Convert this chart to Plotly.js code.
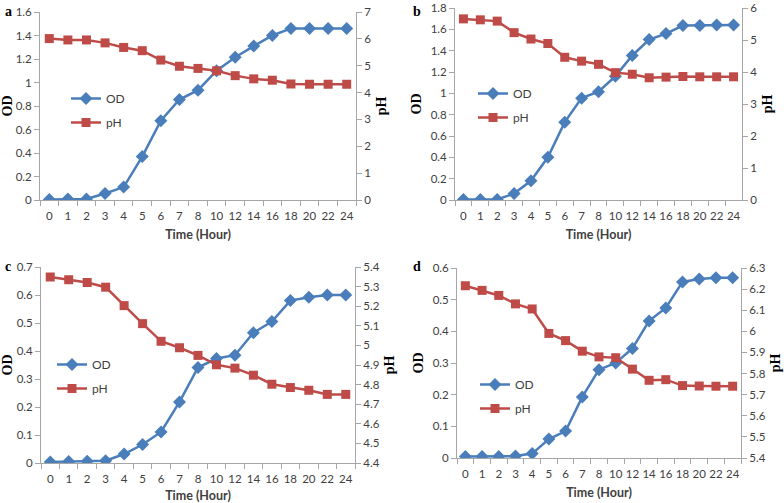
<!DOCTYPE html>
<html>
<head>
<meta charset="utf-8">
<script src="https://cdn.plot.ly/plotly-3.0.1.min.js"></script>
<style>html,body{margin:0;padding:0;background:#fff}#chart{width:784px;height:503px}</style>
</head>
<body>
<div id="chart"></div>
<script>
const hours = ["0","1","2","3","4","5","6","7","8","10","12","14","16","18","20","22","24"];

const odA = [0.005,0.008,0.008,0.055,0.11,0.37,0.675,0.855,0.935,1.10,1.215,1.31,1.40,1.46,1.46,1.46,1.46];
const phA = [6.01,5.96,5.96,5.85,5.68,5.56,5.21,4.98,4.90,4.81,4.63,4.51,4.46,4.32,4.31,4.31,4.31];

const odB = [0.005,0.005,0.005,0.06,0.18,0.40,0.73,0.955,1.015,1.16,1.355,1.505,1.56,1.635,1.635,1.64,1.64];
const phB = [5.66,5.63,5.59,5.23,5.03,4.89,4.46,4.34,4.24,3.98,3.93,3.82,3.84,3.86,3.85,3.85,3.85];

const odC = [0.004,0.005,0.006,0.008,0.032,0.066,0.111,0.218,0.341,0.373,0.385,0.465,0.505,0.58,0.592,0.60,0.60];
const phC = [5.349,5.335,5.321,5.297,5.203,5.111,5.021,4.988,4.949,4.901,4.884,4.848,4.802,4.785,4.771,4.750,4.750];

const odD = [0.005,0.005,0.005,0.006,0.014,0.06,0.085,0.193,0.279,0.30,0.346,0.433,0.474,0.556,0.565,0.569,0.569];
const phD = [6.216,6.194,6.170,6.130,6.106,5.990,5.956,5.906,5.879,5.875,5.821,5.768,5.771,5.743,5.741,5.740,5.740];

const W = 784, H = 503;
const BLUE = "#4A7EBB", RED = "#BE4B48";
const AXC = "#A6A6A6", TXC = "#404040";
const tickFont = {family: "Lato, 'Liberation Sans', sans-serif", size: 11.5, color: TXC};
const serifBold = {family: "'Liberation Serif', 'Times New Roman', serif", size: 14, color: "#000"};

// panel geometry in pixels: [left, right, top, bottom]
const panels = [
  {od: odA, ph: phA, box: [40, 356, 12, 200], yr: [0, 1.6], ydt: 0.2, y2r: [0, 7], y2dt: 1, letter: "a", leg: [66, 97]},
  {od: odB, ph: phB, box: [455, 742, 8, 200], yr: [0, 1.8], ydt: 0.2, y2r: [0, 6], y2dt: 1, letter: "b", leg: [473, 92]},
  {od: odC, ph: phC, box: [41, 355, 267, 463], yr: [0, 0.7], ydt: 0.1, y2r: [4.4, 5.4], y2dt: 0.1, letter: "c", leg: [52, 363]},
  {od: odD, ph: phD, box: [457, 741, 268, 458], yr: [0, 0.6], ydt: 0.1, y2r: [5.4, 6.3], y2dt: 0.1, letter: "d", leg: [475, 383]}
];

const data = [];
const layout = {
  width: W, height: H,
  margin: {l: 0, r: 0, t: 0, b: 0},
  paper_bgcolor: "#fff", plot_bgcolor: "rgba(0,0,0,0)",
  showlegend: true,
  annotations: []
};

panels.forEach((p, i) => {
  const n = i + 1;
  const xa = "x" + (n === 1 ? "" : n);
  const yL = 2 * i + 1, yR = 2 * i + 2;
  const yaL = "y" + (yL === 1 ? "" : yL), yaR = "y" + yR;
  const legName = n === 1 ? "legend" : "legend" + n;
  const [l, r, t, b] = p.box;
  const xd = [l / W, r / W];
  const yd = [(H - b) / H, (H - t) / H];

  data.push({
    x: hours, y: p.od, name: "OD", type: "scatter", mode: "lines+markers",
    xaxis: xa, yaxis: yaL, legend: legName, legendgroup: "od" + n,
    line: {color: BLUE, width: 2.5},
    marker: {symbol: "diamond", size: 10, color: BLUE}
  });
  data.push({
    x: hours, y: p.ph, name: "pH", type: "scatter", mode: "lines+markers",
    xaxis: xa, yaxis: yaR, legend: legName, legendgroup: "ph" + n,
    line: {color: RED, width: 2.5},
    marker: {symbol: "square", size: 9, color: RED}
  });

  const xKey = "xaxis" + (n === 1 ? "" : n);
  const yKeyL = "yaxis" + (yL === 1 ? "" : yL);
  const yKeyR = "yaxis" + yR;

  layout[xKey] = {
    domain: xd, anchor: yaL, type: "category",
    categoryorder: "array", categoryarray: hours,
    range: [-0.5, hours.length - 0.5],
    showline: true, linecolor: AXC, linewidth: 1,
    ticks: "outside", tickson: "boundaries", ticklen: 5, tickcolor: AXC,
    tickangle: 0, ticklabelstandoff: 5,
    showgrid: false, zeroline: false,
    tickfont: tickFont, ticklabeloverflow: "allow",
    title: {text: "<b>Time (Hour)</b>", font: {family: "Lato, 'Liberation Sans', sans-serif", size: 12.5, color: TXC}, standoff: 9},
    fixedrange: true
  };
  layout[yKeyL] = {
    domain: yd, anchor: xa, range: p.yr, dtick: p.ydt, tick0: 0,
    showline: true, linecolor: AXC, linewidth: 1,
    ticks: "outside", ticklen: 5, tickcolor: AXC,
    showgrid: false, zeroline: false,
    tickfont: tickFont, ticklabeloverflow: "allow",
    title: {text: "<b>OD</b>", font: serifBold, standoff: 5},
    fixedrange: true
  };
  layout[yKeyR] = {
    domain: yd, anchor: xa, overlaying: yaL, side: "right",
    range: p.y2r, dtick: p.y2dt, tick0: p.y2r[0],
    showline: true, linecolor: AXC, linewidth: 1,
    ticks: "outside", ticklen: 5, tickcolor: AXC,
    showgrid: false, zeroline: false,
    tickfont: tickFont, ticklabeloverflow: "allow",
    title: {text: "<b>pH</b>", font: serifBold, standoff: 5},
    fixedrange: true
  };
  layout[legName] = {
    x: p.leg[0] / W, y: (H - p.leg[1] + 13) / H, xanchor: "left", yanchor: "top",
    xref: "paper", yref: "paper",
    bgcolor: "rgba(0,0,0,0)", borderwidth: 0,
    font: {family: "Lato, 'Liberation Sans', sans-serif", size: 12, color: TXC},
    itemwidth: 30, tracegroupgap: 5
  };
  layout.annotations.push({
    text: "<b>" + p.letter + "</b>", xref: "paper", yref: "paper",
    x: (i % 2 === 0 ? 3 : 411) / W, y: (H - (i < 2 ? 2 : 257)) / H,
    xanchor: "left", yanchor: "top", showarrow: false, font: serifBold
  });
});

Plotly.newPlot("chart", data, layout, {displayModeBar: false, staticPlot: true});
</script>
</body>
</html>
